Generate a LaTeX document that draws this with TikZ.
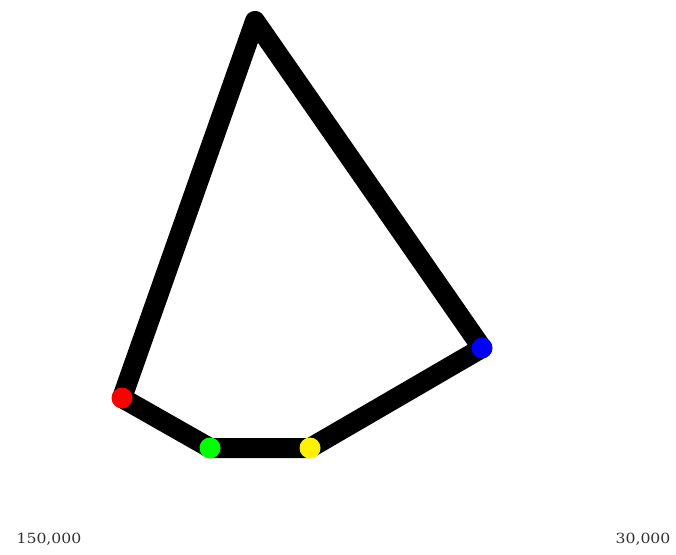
\documentclass[tikz,border=0pt]{standalone}
\usepackage{fontspec}
\newfontfamily\labfont{DejaVu Serif}
\begin{document}
\begin{tikzpicture}[x=1pt,y=-1pt,
  edge/.style={line width=20pt,line join=round,line cap=round,draw=black},
  dot/.style={circle,inner sep=0pt,minimum size=21pt},
  lab/.style={font=\labfont\fontsize{14}{14}\selectfont,inner sep=0pt,text=black!80}]
\useasboundingbox[fill=white] (0,0) rectangle (676,554);
\coordinate (T) at (255,21);
\coordinate (B) at (482,348);
\coordinate (Y) at (310,448);
\coordinate (G) at (210,448);
\coordinate (R) at (122,398);
\draw[edge] (T) -- (B) -- (Y) -- (G) -- (R) -- cycle;
\node[dot,fill=blue] (nb) at (B) {};
\node[dot,fill=yellow] (ny) at (Y) {};
\node[dot,fill=green] (ng) at (G) {};
\node[dot,fill=red] (nr) at (R) {};
\node[lab] (l1) at (49,539) {\scalebox{1.12}[1]{150,000}};
\node[lab] (l2) at (643,539) {\scalebox{1.12}[1]{30,000}};
\end{tikzpicture}
\end{document}
